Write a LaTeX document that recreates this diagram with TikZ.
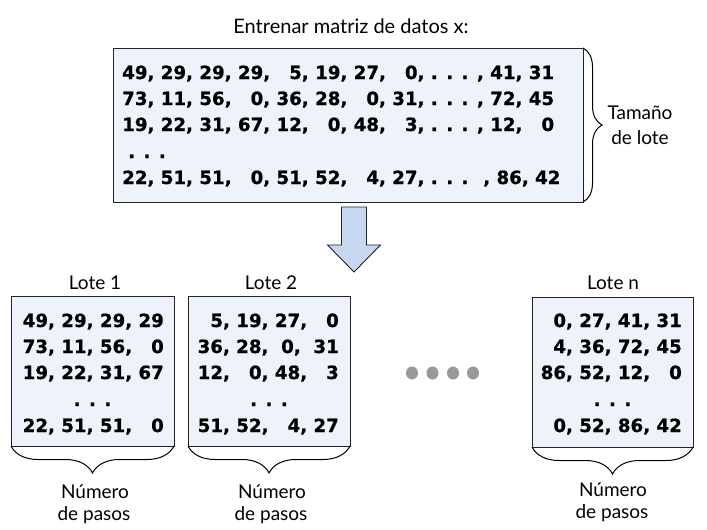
\documentclass[tikz,border=0pt]{standalone}
\usepackage{fontspec}
\setmainfont{Lato}
\newfontfamily\numfont[BoldFeatures={FakeBold=0.8}]{DejaVu Sans}
\usetikzlibrary{decorations.pathreplacing}
\definecolor{boxfill}{HTML}{EEF3FB}
\definecolor{arrowfill}{HTML}{C6D7EF}
\definecolor{edge}{HTML}{222222}
\definecolor{dotgray}{HTML}{999999}
\newcommand{\pz}{\phantom{0}}
\begin{document}
\begin{tikzpicture}[x=1pt,y=-1pt,
  databox/.style={draw=edge,fill=boxfill,line width=0.9pt},
  nums/.style={font=\numfont\bfseries\fontsize{18.2}{22}\selectfont,inner sep=0pt},
  lbl/.style={font=\fontsize{19}{22}\selectfont,inner sep=0pt},
  bracedeco/.style={draw=black,line width=1pt,decorate,decoration={brace,amplitude=#1}},
  dotc/.style={fill=dotgray,draw=none}
]
\useasboundingbox (0,0) rectangle (707,530);

% title
\node[lbl,anchor=base,font=\fontsize{20}{24}\selectfont] (title) at (351,33) {Entrenar matriz de datos x:};

% main box
\path[databox] (113,48) rectangle (583,202);
\coordinate (mNE) at (583,48);
\coordinate (mSE) at (583,202);
\node[nums,anchor=base west] (m1) at (122,79) {49, 29, 29, 29, \pz5, 19, 27, \pz0, . . . , 41, 31};
\node[nums,anchor=base west] (m2) at (122,105) {73, 11, 56, \pz0, 36, 28, \pz0, 31, . . . , 72, 45};
\node[nums,anchor=base west] (m3) at (122,131) {19, 22, 31, 67, 12, \pz0, 48, \pz3, . . . , 12, \pz0};
\node[nums,anchor=base west] (m4) at (128,158) {. . .};
\node[nums,anchor=base west] (m5) at (122,184) {22, 51, 51, \pz0, 51, 52, \pz4, 27, . . . \ , 86, 42};

% right brace
\draw[bracedeco=19pt] (mNE) -- (mSE);
\node[lbl,anchor=base] (t1) at (640,119) {Tamaño};
\node[lbl,anchor=base] (t2) at (640,144) {de lote};

% arrow
\draw[draw=edge,fill=arrowfill,line width=0.9pt]
  (341.5,207) -- (366.5,207) -- (366.5,245) -- (380.5,245) -- (354,272)
  -- (327.5,245) -- (341.5,245) -- cycle;

% lower boxes
\path[databox] (11,296) rectangle (174,446);
\path[databox] (188,296) rectangle (350,446);
\path[databox] (532,297) rectangle (693,447);
\coordinate (aSW) at (11,446); \coordinate (aSE) at (174,446);
\coordinate (bSW) at (188,446); \coordinate (bSE) at (350,446);
\coordinate (cSW) at (532,447); \coordinate (cSE) at (693,447);

\node[lbl,anchor=base] (l1) at (95,289) {Lote 1};
\node[lbl,anchor=base] (l2) at (271,289) {Lote 2};
\node[lbl,anchor=base] (ln) at (613,289) {Lote n};

% box 1
\node[nums,anchor=base east] (a1) at (164,327) {49, 29, 29, 29};
\node[nums,anchor=base east] (a2) at (164,353) {73, 11, 56, \pz0};
\node[nums,anchor=base east] (a3) at (164,379) {19, 22, 31, 67};
\node[nums,anchor=base] (a4) at (92.5,406) {. . .};
\node[nums,anchor=base east] (a5) at (164,432) {22, 51, 51, \pz0};

% box 2
\node[nums,anchor=base east] (b1) at (339,327) {\pz5, 19, 27, \pz0};
\node[nums,anchor=base east] (b2) at (339,353) {36, 28, \hspace{0.35em}0, \hspace{0.35em}31};
\node[nums,anchor=base east] (b3) at (339,379) {12, \pz0, 48, \pz3};
\node[nums,anchor=base] (b4) at (269,406) {. . .};
\node[nums,anchor=base east] (b5) at (339,432) {51, 52, \pz4, 27};

% box n
\node[nums,anchor=base east] (c1) at (682,327) {0, 27, 41, 31};
\node[nums,anchor=base east] (c2) at (682,353) {4, 36, 72, 45};
\node[nums,anchor=base east] (c3) at (682,379) {86, 52, 12, \pz0};
\node[nums,anchor=base] (c4) at (612.5,406) {. . .};
\node[nums,anchor=base east] (c5) at (682,432) {0, 52, 86, 42};

% ellipsis dots
\fill[dotc] (412,373) circle[x radius=6pt,y radius=6.5pt];
\fill[dotc] (432.5,373) circle[x radius=6pt,y radius=6.5pt];
\fill[dotc] (453,373) circle[x radius=6pt,y radius=6.5pt];
\fill[dotc] (473,373) circle[x radius=6pt,y radius=6.5pt];

% bottom braces
\draw[bracedeco=27pt] (aSE) -- (aSW);
\draw[bracedeco=27pt] (bSE) -- (bSW);
\draw[bracedeco=27pt] (cSE) -- (cSW);

\node[lbl,anchor=base] (n1a) at (95,498) {Número};
\node[lbl,anchor=base] (n1b) at (94,520) {de pasos};
\node[lbl,anchor=base] (n2a) at (272,498) {Número};
\node[lbl,anchor=base] (n2b) at (271,520) {de pasos};
\node[lbl,anchor=base] (n3a) at (613,496) {Número};
\node[lbl,anchor=base] (n3b) at (612,518) {de pasos};
\end{tikzpicture}
\end{document}
